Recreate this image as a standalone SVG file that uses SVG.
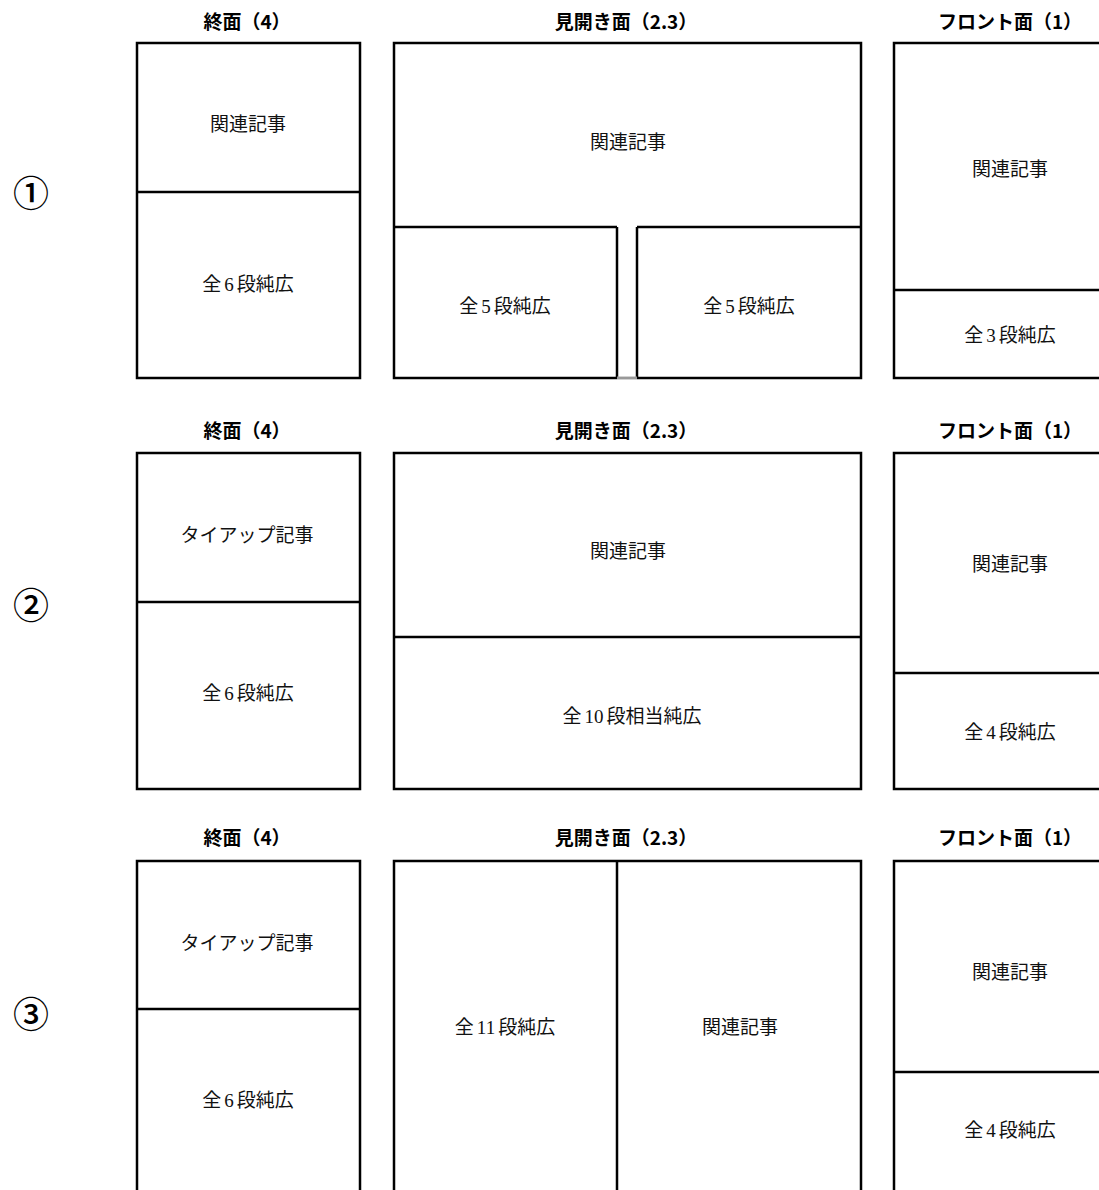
<svg xmlns="http://www.w3.org/2000/svg" width="1099" height="1190" viewBox="0 0 1099 1190">
<style>
.bx{fill:#fff;stroke:#000;stroke-width:2.5}
.ln{stroke:#000;stroke-width:2.5;fill:none}
.tt{font-family:"Noto Sans CJK JP",sans-serif;font-weight:700;font-size:19px;text-anchor:middle;dominant-baseline:central;fill:#000}
.lb{font-family:"Liberation Serif","Noto Sans CJK JP",serif;font-size:19px;text-anchor:middle;dominant-baseline:central;fill:#111}
.no{font-family:"Noto Sans CJK JP",sans-serif;font-size:36px;font-weight:500;text-anchor:middle;dominant-baseline:central;fill:#000}
</style>
<rect width="1099" height="1190" fill="#fff"/>
<g id="row1">
  <text class="no" x="31" y="191">①</text>
  <g id="r1-shuumen">
    <text class="tt" x="247" y="20">終面（4）</text>
    <rect class="bx" x="137" y="43" width="223" height="335"/>
    <line class="ln" x1="137" y1="192" x2="360" y2="192"/>
    <text class="lb" x="248" y="124">関連記事</text>
    <text class="lb" x="248" y="284">全<tspan dx="3">6</tspan><tspan dx="3">段純広</tspan></text>
  </g>
  <g id="r1-mihiraki">
    <text class="tt" x="626" y="20">見開き面（2.3）</text>
    <rect class="bx" x="394" y="43" width="467" height="335"/>
    <line class="ln" x1="394" y1="227" x2="617" y2="227"/>
    <line class="ln" x1="637" y1="227" x2="861" y2="227"/>
    <line class="ln" x1="617" y1="227" x2="617" y2="378"/>
    <line class="ln" x1="637" y1="227" x2="637" y2="378"/>
    <line x1="617" y1="378" x2="637" y2="378" stroke="#fff" stroke-width="2.6"/>
    <line x1="617" y1="378" x2="637" y2="378" stroke="#555" stroke-width="1.2"/>
    <text class="lb" x="628" y="142">関連記事</text>
    <text class="lb" x="505" y="306">全<tspan dx="3">5</tspan><tspan dx="3">段純広</tspan></text>
    <text class="lb" x="749" y="306">全<tspan dx="3">5</tspan><tspan dx="3">段純広</tspan></text>
  </g>
  <g id="r1-front">
    <text class="tt" x="1010" y="20">フロント面（1）</text>
    <rect class="bx" x="894" y="43" width="220" height="335"/>
    <line class="ln" x1="894" y1="290" x2="1114" y2="290"/>
    <text class="lb" x="1010" y="169">関連記事</text>
    <text class="lb" x="1010" y="335">全<tspan dx="3">3</tspan><tspan dx="3">段純広</tspan></text>
  </g>
</g>
<g id="row2">
  <text class="no" x="31" y="603">②</text>
  <g id="r2-shuumen">
    <text class="tt" x="247" y="429">終面（4）</text>
    <rect class="bx" x="137" y="453" width="223" height="336"/>
    <line class="ln" x1="137" y1="602" x2="360" y2="602"/>
    <text class="lb" x="247" y="535">タイアップ記事</text>
    <text class="lb" x="248" y="693">全<tspan dx="3">6</tspan><tspan dx="3">段純広</tspan></text>
  </g>
  <g id="r2-mihiraki">
    <text class="tt" x="626" y="429">見開き面（2.3）</text>
    <rect class="bx" x="394" y="453" width="467" height="336"/>
    <line class="ln" x1="394" y1="637" x2="861" y2="637"/>
    <text class="lb" x="628" y="551">関連記事</text>
    <text class="lb" x="632" y="716">全<tspan dx="3">10</tspan><tspan dx="3">段相当純広</tspan></text>
  </g>
  <g id="r2-front">
    <text class="tt" x="1010" y="429">フロント面（1）</text>
    <rect class="bx" x="894" y="453" width="220" height="336"/>
    <line class="ln" x1="894" y1="673" x2="1114" y2="673"/>
    <text class="lb" x="1010" y="564">関連記事</text>
    <text class="lb" x="1010" y="732">全<tspan dx="3">4</tspan><tspan dx="3">段純広</tspan></text>
  </g>
</g>
<g id="row3">
  <text class="no" x="31" y="1012">③</text>
  <g id="r3-shuumen">
    <text class="tt" x="247" y="836">終面（4）</text>
    <rect class="bx" x="137" y="861" width="223" height="345"/>
    <line class="ln" x1="137" y1="1009" x2="360" y2="1009"/>
    <text class="lb" x="247" y="943">タイアップ記事</text>
    <text class="lb" x="248" y="1100">全<tspan dx="3">6</tspan><tspan dx="3">段純広</tspan></text>
  </g>
  <g id="r3-mihiraki">
    <text class="tt" x="626" y="836">見開き面（2.3）</text>
    <rect class="bx" x="394" y="861" width="467" height="345"/>
    <line class="ln" x1="617" y1="861" x2="617" y2="1206"/>
    <text class="lb" x="505" y="1027">全<tspan dx="3">11</tspan><tspan dx="3">段純広</tspan></text>
    <text class="lb" x="740" y="1027">関連記事</text>
  </g>
  <g id="r3-front">
    <text class="tt" x="1010" y="836">フロント面（1）</text>
    <rect class="bx" x="894" y="861" width="220" height="345"/>
    <line class="ln" x1="894" y1="1072" x2="1114" y2="1072"/>
    <text class="lb" x="1010" y="972">関連記事</text>
    <text class="lb" x="1010" y="1130">全<tspan dx="3">4</tspan><tspan dx="3">段純広</tspan></text>
  </g>
</g>
<g id="connectors"></g>
</svg>
